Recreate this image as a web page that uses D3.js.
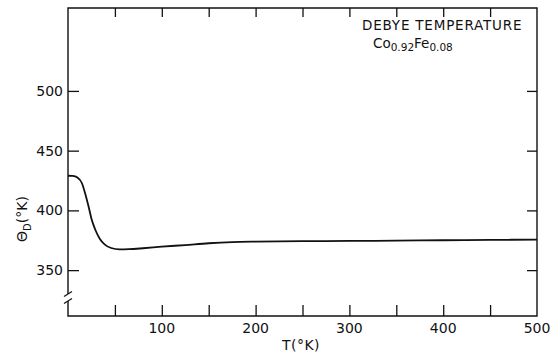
<!DOCTYPE html>
<html>
<head>
<meta charset="utf-8">
<script src="https://cdn.jsdelivr.net/npm/d3@7"></script>
<style>
  html, body { margin: 0; padding: 0; background: #fff; }
  svg { display: block; }
  text { font-family: "DejaVu Sans", sans-serif; fill: #111; }
</style>
</head>
<body>
<svg id="chart" width="560" height="356"></svg>
<script>
// Debye temperature of Co0.92Fe0.08 vs T
const temps = [0, 5, 10, 15, 18, 22, 25, 29, 34, 39, 46, 55, 65, 80, 100, 125, 150, 175, 200, 250, 300, 350, 400, 450, 500];
const theta = [429, 428.8, 427.5, 422.5, 415, 403, 393, 384, 376, 371.5, 368.5, 367.3, 367.5, 368.3, 369.6, 371, 372.5, 373.5, 373.9, 374.2, 374.4, 374.7, 375, 375.3, 375.5];

const xTickValues = [50, 100, 150, 200, 250, 300, 350, 400, 450];
const xLabelValues = [100, 200, 300, 400, 500];
const yTickValues = [350, 400, 450, 500];

const svg = d3.select("#chart");
const plotL = 68, plotR = 537, plotT = 8, plotB = 316;

const x = d3.scaleLinear().domain([0, 500]).range([plotL, plotR]);
const y = d3.scaleLinear().domain([311.6, 569.4]).range([plotB, plotT]);

const ink = "#111";
const g = svg.append("g");

// frame (left side drawn with a break)
const breakTop = 294, breakBot = 301;
g.append("path")
  .attr("d", `M${plotL},${breakBot} L${plotL},${plotB} L${plotR},${plotB} L${plotR},${plotT} L${plotL},${plotT} L${plotL},${breakTop}`)
  .attr("fill", "none").attr("stroke", ink).attr("stroke-width", 1.4);

// axis break marks
[breakTop, breakBot].forEach((yy) => {
  g.append("line")
    .attr("x1", plotL - 4).attr("y1", yy + 2.5)
    .attr("x2", plotL + 4).attr("y2", yy - 2.5)
    .attr("stroke", ink).attr("stroke-width", 1.2);
});

// bottom axis: inward ticks, labels below
const xAxis = d3.axisBottom(x).tickValues(xTickValues).tickSize(-11).tickFormat("");
g.append("g").attr("transform", `translate(0,${plotB})`).call(xAxis)
  .call((s) => s.select(".domain").remove())
  .call((s) => s.selectAll("line").attr("stroke", ink).attr("stroke-width", 1.3));

g.append("g").selectAll("text").data(xLabelValues).join("text")
  .attr("x", (d) => x(d)).attr("y", 333)
  .attr("text-anchor", "middle").attr("font-size", 14)
  .text((d) => d);

// top axis ticks
const xTop = d3.axisTop(x).tickValues(xTickValues).tickSize(-9).tickFormat("");
g.append("g").attr("transform", `translate(0,${plotT})`).call(xTop)
  .call((s) => s.select(".domain").remove())
  .call((s) => s.selectAll("line").attr("stroke", ink).attr("stroke-width", 1.3));

// left axis: inward ticks + labels
const yAxis = d3.axisLeft(y).tickValues(yTickValues).tickSize(-11);
g.append("g").attr("transform", `translate(${plotL},0)`).call(yAxis)
  .call((s) => s.select(".domain").remove())
  .call((s) => s.selectAll("line").attr("stroke", ink).attr("stroke-width", 1.3))
  .call((s) => s.selectAll("text").attr("font-size", 14).attr("fill", ink)
    .attr("font-family", "DejaVu Sans, sans-serif").attr("x", -5));

// right axis ticks
const yRight = d3.axisRight(y).tickValues(yTickValues).tickSize(-10).tickFormat("");
g.append("g").attr("transform", `translate(${plotR},0)`).call(yRight)
  .call((s) => s.select(".domain").remove())
  .call((s) => s.selectAll("line").attr("stroke", ink).attr("stroke-width", 1.3));

// curve
const pts = temps.map((t, i) => [t, theta[i]]);
const line = d3.line().x((d) => x(d[0])).y((d) => y(d[1])).curve(d3.curveMonotoneX);
g.append("path").datum(pts)
  .attr("d", line)
  .attr("fill", "none").attr("stroke", ink).attr("stroke-width", 1.8);

// axis titles
g.append("text").attr("x", 301).attr("y", 350)
  .attr("text-anchor", "middle").attr("font-size", 14)
  .attr("letter-spacing", 0.5)
  .text("T(°K)");

const yt = g.append("text").attr("transform", "translate(27,219) rotate(-90)")
  .attr("text-anchor", "middle").attr("font-size", 14);
yt.append("tspan").text("Θ");
yt.append("tspan").attr("font-size", 10).attr("dy", 4).text("D");
yt.append("tspan").attr("dy", -4).text("(°K)");

// annotation
g.append("text").attr("x", 362).attr("y", 30).attr("font-size", 13.5)
  .attr("letter-spacing", 0.8)
  .text("DEBYE TEMPERATURE");
const comp = g.append("text").attr("x", 373).attr("y", 48).attr("font-size", 13.5);
comp.append("tspan").text("Co");
comp.append("tspan").attr("font-size", 10.5).attr("dy", 3).text("0.92");
comp.append("tspan").attr("dy", -3).text("Fe");
comp.append("tspan").attr("font-size", 10.5).attr("dy", 3).text("0.08");
</script>
</body>
</html>
